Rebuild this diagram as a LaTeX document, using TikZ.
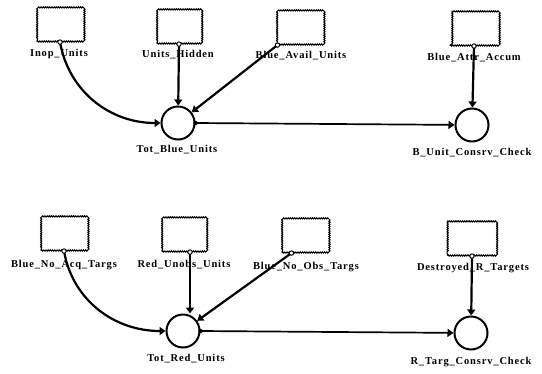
\documentclass[tikz,border=0pt]{standalone}
\usepackage{fontspec}
\setmainfont{Liberation Serif}[LetterSpace=8]
\usetikzlibrary{arrows.meta,decorations.pathmorphing,calc}
\tikzset{
  stockbox/.style={draw, line width=1.1pt, minimum width=#1, minimum height=33pt, inner sep=0pt,
    decorate, decoration={snake, segment length=2.2pt, amplitude=0.55pt}},
  stockbox/.default=46pt,
  conv/.style={circle, draw, line width=2pt, minimum size=33pt, inner sep=0pt},
  lbl/.style={font=\fontsize{10.5}{12}\selectfont\bfseries, inner sep=0pt},
  link/.style={line width=2.2pt, -{Triangle[length=6pt,width=8pt]}},
  flowl/.style={line width=1.7pt, -{Triangle[length=6pt,width=8pt]}},
  origin/.style={fill=white, draw, line width=1pt},
}
\begin{document}
\begin{tikzpicture}[x=1pt,y=-1pt]
\useasboundingbox (0,0) rectangle (542,373);
% top group
\node[stockbox] (b1) at (60,25) {};
\node[stockbox=44pt] (b2) at (179,27) {};
\node[stockbox] (b3) at (300,28) {};
\node[stockbox=48pt] (b4) at (474,29) {};
\node[lbl] (l1) at (59,54) {Inop\_Units};
\node[lbl] (l2) at (178,55) {Units\_Hidden};
\node[lbl] (l3) at (301,56) {Blue\_Avail\_Units};
\node[lbl] (l4) at (474,58) {Blue\_Attr\_Accum};
\node[conv] (c1) at (178,123) {};
\node[conv] (c2) at (472,125) {};
\node[lbl] (l5) at (177,150) {Tot\_Blue\_Units};
\node[lbl] (l6) at (472,153) {B\_Unit\_Consrv\_Check};
\coordinate (d1) at (b1.south);
\coordinate (d2) at (b2.south);
\coordinate (d3) at ($(b3.south west)+(1,0)$);
\coordinate (d4) at (b4.south);
\coordinate (e1) at (c1.east);
\draw[link] (d1) to[out=-80,in=180] (c1);
\draw[link] (d2) -- (c1);
\draw[link] (d3) -- (c1);
\draw[link] (d4) -- (c2);
\draw[flowl] (e1) -- (c2);
\foreach \d in {d1,d2,d3,d4} \draw[origin] (\d) circle (2.2pt);
\fill (e1) circle (2.2pt);
% bottom group
\node[stockbox] (b5) at (64,234) {};
\node[stockbox=44pt] (b6) at (184,235) {};
\node[stockbox] (b7) at (305,236) {};
\node[stockbox=49pt] (b8) at (472,239) {};
\node[lbl] (l7) at (64,265) {Blue\_No\_Acq\_Targs};
\node[lbl] (l8) at (184,265) {Red\_Unobs\_Units};
\node[lbl] (l9) at (306,267) {Blue\_No\_Obs\_Targs};
\node[lbl] (l10) at (473,268) {Destroyed\_R\_Targets};
\node[conv] (c3) at (183,331) {};
\node[conv] (c4) at (471,333) {};
\node[lbl] (l11) at (186,359) {Tot\_Red\_Units};
\node[lbl] (l12) at (471,362) {R\_Targ\_Consrv\_Check};
\coordinate (d5) at (b5.south);
\coordinate (d6) at ($(b6.south)+(6,0)$);
\coordinate (d7) at ($(b7.south west)+(10,0)$);
\coordinate (d8) at (b8.south);
\coordinate (e2) at (c3.east);
\draw[link] (d5) to[out=-80,in=180] (c3);
\draw[link] (d6) -- (d6 |- c3.north);
\draw[link] (d7) -- (c3);
\draw[link] (d8) -- (c4);
\draw[flowl] (e2) -- (c4);
\foreach \d in {d5,d6,d7,d8} \draw[origin] (\d) circle (2.2pt);
\fill (e2) circle (2.2pt);
\end{tikzpicture}
\end{document}
